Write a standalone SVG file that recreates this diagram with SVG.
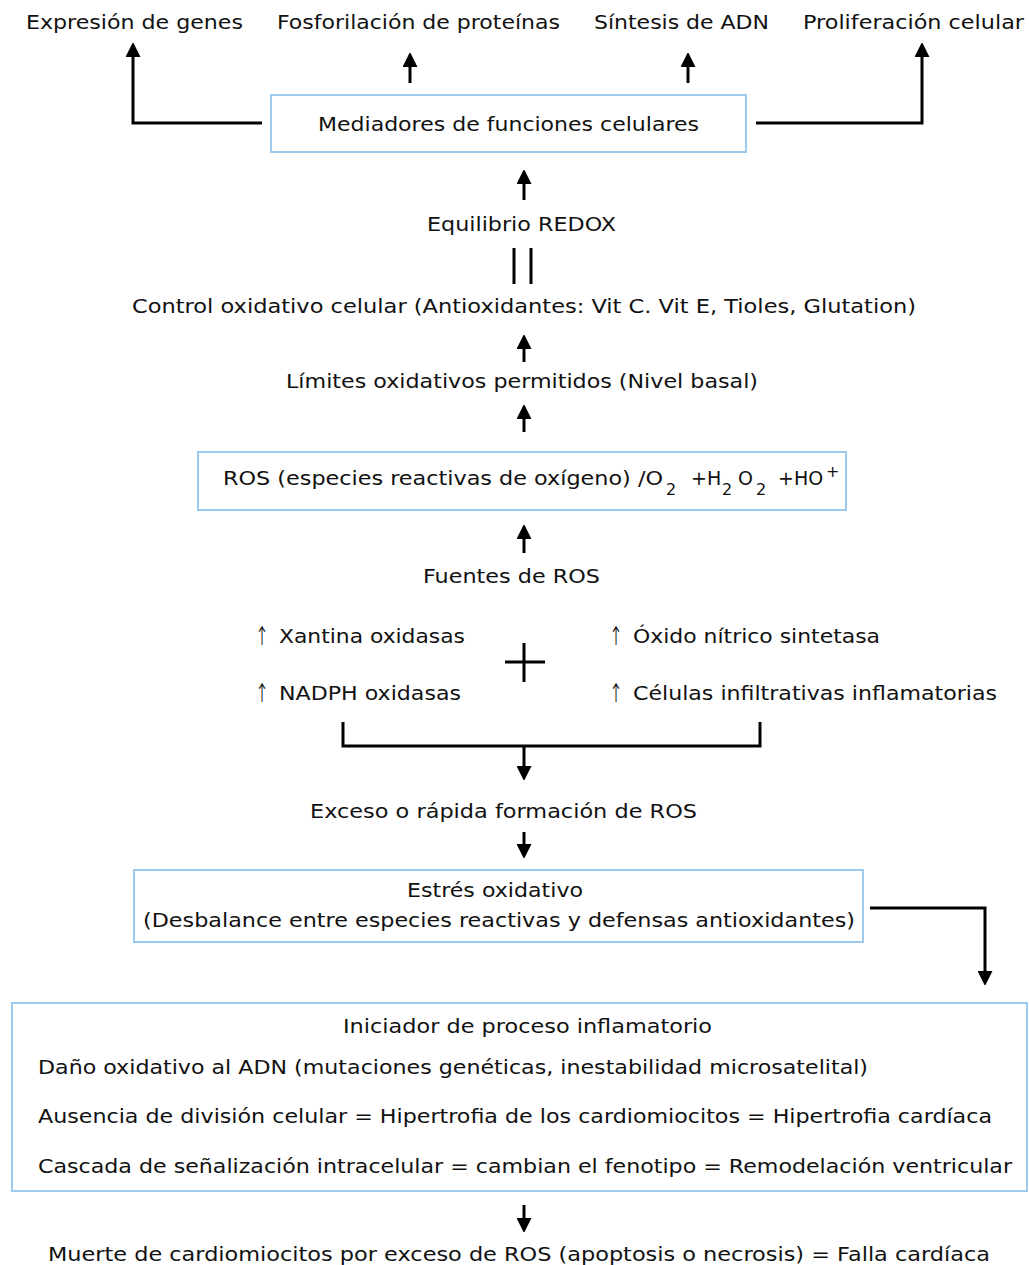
<svg xmlns="http://www.w3.org/2000/svg" width="1029" height="1265" viewBox="0 0 1029 1265">
<style>
  text { font-family: "DejaVu Sans", Verdana, "Liberation Sans", sans-serif; font-size: 19px; fill: #111111; }
  .tall { font-size: 20px; }
  .box { fill: #ffffff; stroke: #9cc9ee; stroke-width: 2; }
  .ln { fill: none; stroke: #000; stroke-width: 3; }
  .arr { fill: none; stroke: #000; stroke-width: 3; marker-end: url(#ah); }
  .sub { font-size: 16px; }
  .up { font-family: "Noto Sans CJK SC", "DejaVu Sans", sans-serif; font-size: 21px; }
</style>
<defs>
  <marker id="ah" viewBox="0 0 14 15" refX="10" refY="7.5" markerWidth="14" markerHeight="15" orient="auto" markerUnits="userSpaceOnUse">
    <path d="M0,0 L15,7.5 L0,15 z" fill="#000"/>
  </marker>
</defs>
<rect width="1029" height="1265" fill="#ffffff"/>

<g id="connectors">
  <path class="arr" d="M262,123 H133 V47"/>
  <path class="arr" d="M410,83 V57"/>
  <path class="arr" d="M688,83 V57"/>
  <path class="arr" d="M756,123 H922 V47"/>
  <path class="arr" d="M524,200 V174"/>
  <path class="ln" d="M514,248 V284 M531,248 V284"/>
  <path class="arr" d="M524,362 V339"/>
  <path class="arr" d="M524,432 V409"/>
  <path class="arr" d="M524,553 V529"/>
  <path class="ln" d="M505,662 H545 M524,643 V682"/>
  <path class="ln" d="M343,722 V746 H760 V722"/>
  <path class="arr" d="M524,746 V776"/>
  <path class="arr" d="M524,832 V854"/>
  <path class="arr" d="M870,908 H985 V981"/>
  <path class="arr" d="M524,1205 V1228"/>
</g>

<g id="n-expresion"><text x="26" y="29" textLength="217" lengthAdjust="spacingAndGlyphs">Expresión de genes</text></g>
<g id="n-fosforilacion"><text x="277" y="29" textLength="283" lengthAdjust="spacingAndGlyphs">Fosforilación de proteínas</text></g>
<g id="n-sintesis"><text x="594" y="29" textLength="175" lengthAdjust="spacingAndGlyphs">Síntesis de ADN</text></g>
<g id="n-proliferacion"><text x="803" y="29" textLength="221" lengthAdjust="spacingAndGlyphs">Proliferación celular</text></g>

<g id="n-mediadores">
  <rect class="box" x="271" y="95" width="475" height="57"/>
  <text x="318" y="131" textLength="381" lengthAdjust="spacingAndGlyphs">Mediadores de funciones celulares</text>
</g>

<g id="n-equilibrio"><text x="427" y="231" textLength="189" lengthAdjust="spacingAndGlyphs">Equilibrio REDOX</text></g>
<g id="n-control"><text x="132" y="313" textLength="784" lengthAdjust="spacingAndGlyphs">Control oxidativo celular (Antioxidantes: Vit C. Vit E, Tioles, Glutation)</text></g>
<g id="n-limites"><text x="286" y="388" textLength="472" lengthAdjust="spacingAndGlyphs">Límites oxidativos permitidos (Nivel basal)</text></g>

<g id="n-ros">
  <rect class="box" x="198" y="452" width="648" height="58"/>
  <text y="485"><tspan x="223" textLength="440" lengthAdjust="spacingAndGlyphs">ROS (especies reactivas de oxígeno) /O</tspan><tspan class="sub" x="666" y="495">2</tspan><tspan x="691" y="485">+H</tspan><tspan class="sub" x="722" y="495">2</tspan><tspan x="738" y="485">O</tspan><tspan class="sub" x="756" y="495">2</tspan><tspan x="778" y="485">+HO</tspan><tspan class="sub" x="826" y="477">+</tspan></text>
</g>

<g id="n-fuentes"><text x="423" y="583" textLength="177" lengthAdjust="spacingAndGlyphs">Fuentes de ROS</text></g>
<g id="n-xantina"><text y="643"><tspan class="up" x="255" textLength="14" lengthAdjust="spacingAndGlyphs">↑</tspan><tspan x="279" textLength="186" lengthAdjust="spacingAndGlyphs">Xantina oxidasas</tspan></text></g>
<g id="n-nadph"><text y="700"><tspan class="up" x="255" textLength="14" lengthAdjust="spacingAndGlyphs">↑</tspan><tspan x="279" textLength="182" lengthAdjust="spacingAndGlyphs">NADPH oxidasas</tspan></text></g>
<g id="n-oxido"><text y="643"><tspan class="up" x="609" textLength="14" lengthAdjust="spacingAndGlyphs">↑</tspan><tspan x="633" textLength="247" lengthAdjust="spacingAndGlyphs">Óxido nítrico sintetasa</tspan></text></g>
<g id="n-celulas"><text y="700"><tspan class="up" x="609" textLength="14" lengthAdjust="spacingAndGlyphs">↑</tspan><tspan x="633" textLength="364" lengthAdjust="spacingAndGlyphs">Células infiltrativas inflamatorias</tspan></text></g>

<g id="n-exceso"><text x="310" y="818" textLength="387" lengthAdjust="spacingAndGlyphs">Exceso o rápida formación de ROS</text></g>

<g id="n-estres">
  <rect class="box" x="134" y="870" width="729" height="72"/>
  <text class="tall" x="407" y="897" textLength="176" lengthAdjust="spacingAndGlyphs">Estrés oxidativo</text>
  <text class="tall" x="143" y="927" textLength="712" lengthAdjust="spacingAndGlyphs">(Desbalance entre especies reactivas y defensas antioxidantes)</text>
</g>

<g id="n-iniciador">
  <rect class="box" x="12" y="1003" width="1015" height="188"/>
  <text class="tall" x="343" y="1033" textLength="369" lengthAdjust="spacingAndGlyphs">Iniciador de proceso inflamatorio</text>
  <text class="tall" x="38" y="1074" textLength="830" lengthAdjust="spacingAndGlyphs">Daño oxidativo al ADN (mutaciones genéticas, inestabilidad microsatelital)</text>
  <text class="tall" x="38" y="1123" textLength="954" lengthAdjust="spacingAndGlyphs">Ausencia de división celular = Hipertrofia de los cardiomiocitos = Hipertrofia cardíaca</text>
  <text class="tall" x="38" y="1173" textLength="974" lengthAdjust="spacingAndGlyphs">Cascada de señalización intracelular = cambian el fenotipo = Remodelación ventricular</text>
</g>

<g id="n-muerte"><text class="tall" x="48" y="1261" textLength="942" lengthAdjust="spacingAndGlyphs">Muerte de cardiomiocitos por exceso de ROS (apoptosis o necrosis) = Falla cardíaca</text></g>
</svg>
